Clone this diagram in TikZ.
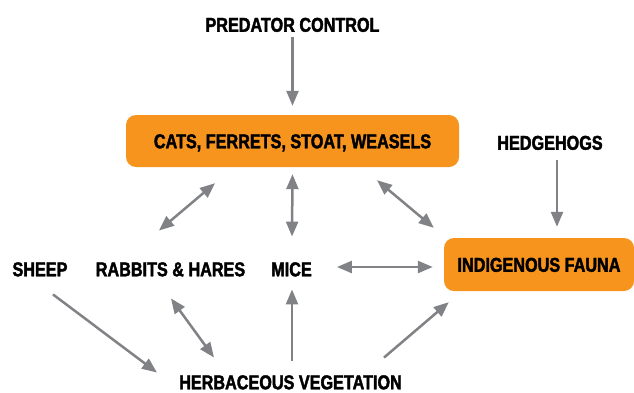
\documentclass[tikz,border=0pt]{standalone}
\usepackage{fontspec}
\setmainfont{Liberation Sans}[UprightFont={* Bold}, BoldFont={* Bold}, FakeStretch=0.81, FakeBold=2]
\usetikzlibrary{arrows.meta,calc}
\definecolor{boxorange}{HTML}{F7941E}
\definecolor{linkgray}{HTML}{808285}

\begin{document}
\begin{tikzpicture}[
        x=1pt, y=-1pt,
        >={Triangle[length=15pt,width=12pt]},
        font=\fontsize{20}{24}\selectfont,
        tag/.style={inner sep=0pt, text height=14.5pt, text depth=0pt},
        box/.style={tag, fill=boxorange, rounded corners=10pt},
        link/.style={draw=linkgray, line width=2.5pt}
        ]
            \useasboundingbox (0, 0) rectangle (634, 392);

            \node[tag] (pred) at (292.5, 24.5) {PREDATOR CONTROL};
            \node[box, minimum width=333pt, minimum height=52pt] (cats) at (292.5, 141) {CATS, FERRETS, STOAT, WEASELS};
            \node[tag] (hedge) at (550, 142.5) {HEDGEHOGS};

            \node[tag] (sheep) at (40, 269) {SHEEP};
            \node[tag] (rabbits) at (170.5, 269) {RABBITS \& HARES};
            \node[tag] (mice) at (291.5, 269) {MICE};
            \node[box, minimum width=190pt, minimum height=53pt] (fauna) at (539, 264.5) {INDIGENOUS FAUNA};

            \node[tag] (herb) at (290.5, 382) {HERBACEOUS VEGETATION};

            % predators and hedgehogs
            \draw[link, ->] ($(pred.south)+(0, 5.5)$) -- ($(cats.north)+(0, -9)$);
            \draw[link, ->] ($(hedge.south)+(7, 10.5)$) -- ($(fauna.north)+(18, -11)$);

            % predators and prey
            \draw[link, <->] ($(rabbits.north)+(-11.5, -31)$) -- ($(cats.south)+(-77.5, 16)$);
            \draw[link, <->] ($(cats.south)+(0, 7)$) -- ($(mice.north)+(0.5, -25)$);
            \draw[link, <->] ($(cats.south)+(84.5, 13)$) -- ($(fauna.north west)+(-10, -10)$);
            \draw[link, <->] ($(mice.east)+(25, -2)$) -- ($(fauna.west)+(-11, 2.5)$);

            % vegetation
            \draw[link, ->] ($(sheep.south)+(13, 18)$) -- ($(herb.north)+(-133.5, -2)$);
            \draw[link, <->] ($(rabbits.south)+(0.5, 22)$) -- ($(herb.north)+(-76.5, -17)$);
            \draw[link, ->] ($(herb.north)+(1.5, -14)$) -- ($(mice.south)+(0.5, 13)$);
            \draw[link, ->] ($(herb.north)+(93.5, -17)$) -- ($(fauna.south west)+(5, 11)$);
        \end{tikzpicture}
\end{document}
